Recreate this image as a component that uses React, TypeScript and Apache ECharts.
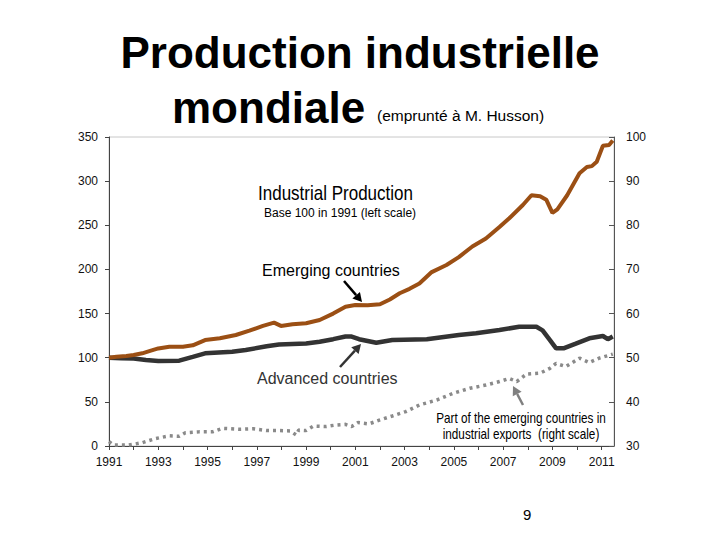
import React, { useEffect, useRef } from "react";
import * as echarts from "echarts";

// Emerging countries industrial production (base 100 in 1991, left scale)
const emergingYears = [1991.0, 1991.3, 1991.7, 1992.0, 1992.35, 1992.7, 1993.0, 1993.45, 1994.0, 1994.4, 1994.9, 1995.5, 1996.15, 1996.7, 1997.25, 1997.7, 1997.98, 1998.45, 1999.0, 1999.55, 2000.1, 2000.6, 2001.0, 2001.5, 2002.0, 2002.4, 2002.8, 2003.2, 2003.6, 2004.1, 2004.7, 2005.2, 2005.75, 2006.3, 2006.85, 2007.25, 2007.8, 2008.15, 2008.5, 2008.75, 2009.0, 2009.2, 2009.6, 2010.1, 2010.4, 2010.6, 2010.8, 2011.05, 2011.3, 2011.45];
const emergingVals = [100, 101, 102, 103, 105, 108, 110.5, 112.5, 112.5, 114, 120, 122, 125.7, 130.6, 136, 139.7, 136, 138, 139, 142.7, 150, 157.8, 159.7, 159.5, 160.5, 166, 173, 178, 184, 197, 205, 214, 226, 235, 248, 258, 273, 284, 283, 279, 264, 268, 284, 309, 316, 317, 322, 340, 341, 346];

// Advanced countries industrial production (left scale)
const advancedYears = [1991.0, 1991.5, 1992.0, 1992.5, 1993.0, 1993.85, 1994.4, 1994.9, 1996.0, 1996.55, 1997.4, 1997.9, 1999.0, 1999.55, 2000.1, 2000.6, 2000.85, 2001.15, 2001.85, 2002.5, 2003.9, 2005.2, 2005.9, 2006.85, 2007.65, 2008.35, 2008.6, 2008.9, 2009.15, 2009.45, 2009.95, 2010.5, 2011.05, 2011.25, 2011.45];
const advancedVals = [100, 99.5, 99, 97.5, 96.3, 96.7, 101, 105, 106.8, 108.7, 113, 115, 116, 118, 121, 124, 124, 121, 117, 120, 121, 125.7, 127.6, 131.4, 135, 135, 131, 120, 110.6, 110.6, 116, 122, 124.6, 121, 124];

// Share of emerging countries in industrial exports (right scale, %)
const shareYears = [1991.0, 1991.2, 1991.8, 1992.35, 1992.9, 1993.45, 1993.85, 1994.1, 1994.65, 1995.2, 1995.6, 1996.3, 1996.85, 1997.4, 1997.9, 1998.35, 1998.6, 1998.7, 1999.0, 1999.3, 1999.8, 2000.2, 2000.6, 2000.85, 2001.1, 2001.55, 2002.0, 2002.5, 2003.05, 2003.6, 2004.3, 2004.95, 2005.65, 2006.3, 2006.85, 2007.25, 2007.55, 2007.95, 2008.5, 2008.9, 2009.15, 2009.55, 2010.1, 2010.5, 2010.9, 2011.45];
const shareVals = [31.0, 30.2, 30.2, 30.75, 31.7, 32.3, 32.2, 33.0, 33.2, 33.2, 34.0, 33.8, 33.9, 33.5, 33.5, 33.4, 32.5, 33.6, 33.5, 34.5, 34.4, 34.75, 34.9, 34.4, 35.3, 35.0, 35.9, 36.8, 37.8, 39.3, 40.4, 41.9, 43.1, 43.8, 44.6, 45.3, 44.6, 46.3, 46.5, 47.6, 48.7, 48.0, 49.9, 48.9, 49.9, 50.8];

const xMin = 1991;
const xMax = 2011.5;
const leftMin = 0;
const leftMax = 350;
const leftStep = 50;
const rightMin = 30;
const rightMax = 100;
const rightStep = 10;

const FONT = "'Liberation Sans', Arial, sans-serif";

function zip(xs: number[], ys: number[]) {
  return xs.map((x, i) => [x, ys[i]]);
}

function arrow(x1: number, y1: number, x2: number, y2: number, color: string, w: number) {
  const dx = x2 - x1;
  const dy = y2 - y1;
  const len = Math.sqrt(dx * dx + dy * dy);
  const ux = dx / len;
  const uy = dy / len;
  const headL = 9;
  const headW = 5;
  const bx = x2 - ux * headL;
  const by = y2 - uy * headL;
  return [
    {
      type: "line",
      shape: { x1, y1, x2: bx, y2: by },
      style: { stroke: color, lineWidth: w },
      z: 10,
    },
    {
      type: "polygon",
      shape: {
        points: [
          [x2, y2],
          [bx - uy * headW, by + ux * headW],
          [bx + uy * headW, by - ux * headW],
        ],
      },
      style: { fill: color },
      z: 10,
    },
  ];
}

export default function App() {
  const ref = useRef<HTMLDivElement>(null);

  useEffect(() => {
    if (!ref.current) return;
    const chart = echarts.init(ref.current, undefined, { renderer: "svg" });
    const option: any = {
      animation: false,
      backgroundColor: "#ffffff",
      grid: {
        left: 109,
        right: 106,
        top: 137,
        bottom: 94,
        show: true,
        borderColor: "#c8c8c8",
        borderWidth: 1,
      },
      xAxis: {
        type: "value",
        min: xMin,
        max: xMax,
        interval: 1,
        axisLine: { show: true, lineStyle: { color: "#444", width: 1 } },
        axisTick: { show: true, length: 4, lineStyle: { color: "#444" } },
        splitLine: { show: false },
        axisLabel: {
          color: "#111",
          fontFamily: FONT,
          fontSize: 12,
          margin: 10,
          showMaxLabel: false,
          formatter: (v: number) =>
            Math.abs(v - Math.round(v)) < 1e-6 && Math.round(v) % 2 === 1 ? String(Math.round(v)) : "",
        },
      },
      yAxis: [
        {
          type: "value",
          position: "left",
          min: leftMin,
          max: leftMax,
          interval: leftStep,
          axisLine: { show: true, lineStyle: { color: "#444", width: 1 } },
          axisTick: { show: true, length: 4, lineStyle: { color: "#444" } },
          splitLine: { show: false },
          axisLabel: { color: "#111", fontFamily: FONT, fontSize: 12, margin: 11 },
        },
        {
          type: "value",
          position: "right",
          min: rightMin,
          max: rightMax,
          interval: rightStep,
          axisLine: { show: true, lineStyle: { color: "#555", width: 1 } },
          axisTick: { show: true, inside: true, length: 5, lineStyle: { color: "#555" } },
          splitLine: { show: false },
          axisLabel: { color: "#111", fontFamily: FONT, fontSize: 12, margin: 12 },
        },
      ],
      series: [
        {
          name: "Part of the emerging countries in industrial exports",
          type: "line",
          yAxisIndex: 1,
          data: zip(shareYears, shareVals),
          showSymbol: false,
          lineStyle: { color: "#8a8a8a", width: 3.5, type: [3, 4] },
          z: 2,
        },
        {
          name: "Advanced countries",
          type: "line",
          yAxisIndex: 0,
          data: zip(advancedYears, advancedVals),
          showSymbol: false,
          lineStyle: { color: "#333333", width: 4.5 },
          z: 3,
        },
        {
          name: "Emerging countries",
          type: "line",
          yAxisIndex: 0,
          data: zip(emergingYears, emergingVals),
          showSymbol: false,
          lineStyle: { color: "#9b4f14", width: 4 },
          z: 4,
        },
      ],
      graphic: [
        {
          type: "text",
          left: "center",
          top: 30,
          style: {
            text: "Production industrielle",
            font: `bold 44px ${FONT}`,
            fill: "#000",
          },
        },
        {
          type: "text",
          x: 172,
          y: 85,
          style: {
            text: "mondiale",
            font: `bold 44px ${FONT}`,
            fill: "#000",
          },
        },
        {
          type: "text",
          x: 377,
          y: 107,
          style: {
            text: "(emprunté à M. Husson)",
            font: `15.5px ${FONT}`,
            fill: "#000",
          },
        },
        {
          type: "text",
          x: 258,
          y: 182,
          scaleX: 0.81,
          style: {
            text: "Industrial Production",
            font: `21px ${FONT}`,
            fill: "#000",
          },
        },
        {
          type: "text",
          x: 264,
          y: 207,
          style: {
            text: "Base 100 in 1991 (left scale)",
            font: `12px ${FONT}`,
            fill: "#000",
          },
        },
        {
          type: "text",
          x: 262,
          y: 262,
          style: {
            text: "Emerging countries",
            font: `16px ${FONT}`,
            fill: "#000",
          },
        },
        {
          type: "text",
          x: 257,
          y: 370,
          style: {
            text: "Advanced countries",
            font: `16px ${FONT}`,
            fill: "#333",
          },
        },
        {
          type: "text",
          x: 521,
          y: 410,
          scaleX: 0.84,
          style: {
            text: "Part of the emerging countries in\nindustrial exports  (right scale)",
            font: `14px ${FONT}`,
            fill: "#000",
            align: "center",
            lineHeight: 16,
          },
        },
        {
          type: "text",
          x: 523,
          y: 507,
          style: {
            text: "9",
            font: `15px ${FONT}`,
            fill: "#000",
          },
        },
        ...arrow(344, 281, 362, 302, "#000", 2.5),
        ...arrow(340, 367, 361, 344, "#333", 2.5),
        ...arrow(523, 405, 513, 386, "#808080", 2.5),
      ],
    };
    chart.setOption(option);
    return () => chart.dispose();
  }, []);

  return (
    <div
      ref={ref}
      style={{ position: "fixed", left: 0, top: 0, width: 720, height: 540, background: "#fff" }}
    />
  );
}
